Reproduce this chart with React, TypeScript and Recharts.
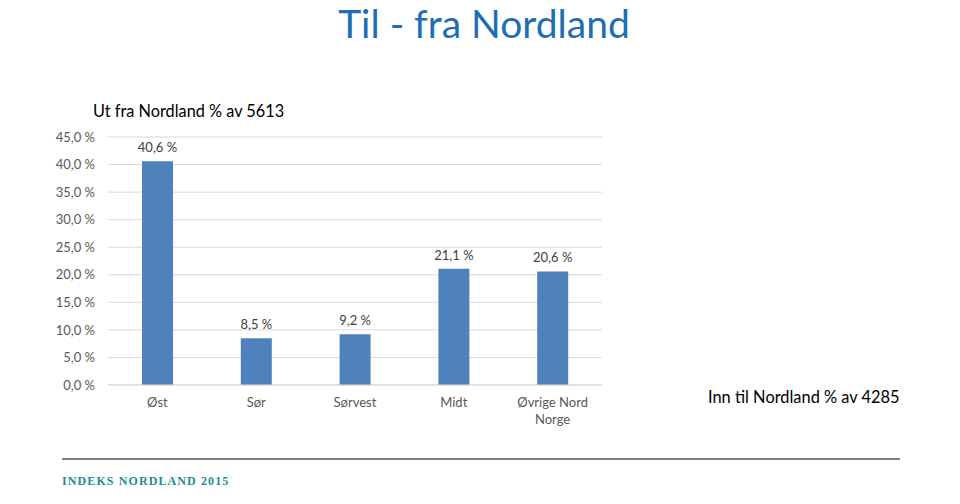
import React from 'react';
import { BarChart, Bar, XAxis, YAxis, CartesianGrid, LabelList } from 'recharts';

const regions = ['Øst', 'Sør', 'Sørvest', 'Midt', 'Øvrige Nord Norge'];
const shares = [40.6, 8.5, 9.2, 21.1, 20.6];
const yTicks = [0, 5, 10, 15, 20, 25, 30, 35, 40, 45];

const chartData = regions.map((name, i) => ({ name, value: shares[i] }));

const pct = (v: number) => `${v.toFixed(1).replace('.', ',')} %`;

const FONT = 'Lato, "Open Sans", sans-serif';

// wrap long category names onto two lines, like the original
const CategoryTick = (props: any) => {
  const { x, y, payload } = props;
  const words: string[] = String(payload.value).split(' ');
  const lines: string[] = [];
  let cur = '';
  words.forEach((w) => {
    const next = cur ? `${cur} ${w}` : w;
    if (next.length > 12 && cur) {
      lines.push(cur);
      cur = w;
    } else {
      cur = next;
    }
  });
  if (cur) lines.push(cur);
  return (
    <text x={x} y={y} textAnchor="middle" fill="#595959" fontSize={13} fontFamily={FONT}>
      {lines.map((l, i) => (
        <tspan key={i} x={x} dy={i === 0 ? 14 : 17}>
          {l}
        </tspan>
      ))}
    </text>
  );
};

// value label above each bar, kept on one line
const ValueLabel = (props: any) => {
  const { x, y, width, value } = props;
  return (
    <text
      x={Number(x) + Number(width) / 2}
      y={Number(y) - 9}
      textAnchor="middle"
      fill="#404040"
      fontSize={13}
      fontFamily={FONT}
    >
      {pct(Number(value))}
    </text>
  );
};

const App = () => {
  return (
    <div
      style={{
        position: 'absolute',
        left: 0,
        top: 0,
        width: 960,
        height: 504,
        background: '#ffffff',
        overflow: 'hidden',
        fontFamily: FONT,
      }}
    >
      <div
        style={{
          position: 'absolute',
          top: 0,
          left: 0,
          width: 968,
          textAlign: 'center',
          fontSize: 39,
          lineHeight: 'normal',
          color: '#1f6db3',
        }}
      >
        Til - fra Nordland
      </div>

      <div style={{ position: 'absolute', left: 93, top: 101, fontSize: 16.3, color: '#000' }}>
        Ut fra Nordland % av 5613
      </div>

      <div style={{ position: 'absolute', left: 708, top: 387, fontSize: 16.4, color: '#000' }}>
        Inn til Nordland % av 4285
      </div>

      <div style={{ position: 'absolute', left: 0, top: 0 }}>
        <BarChart
          width={620}
          height={440}
          data={chartData}
          margin={{ top: 137, right: 18, left: 8, bottom: 0 }}
        >
          <CartesianGrid vertical={false} stroke="#d9d9d9" />
          <XAxis
            dataKey="name"
            axisLine={{ stroke: '#d9d9d9' }}
            tickLine={false}
            tick={<CategoryTick />}
            interval={0}
            height={55}
          />
          <YAxis
            domain={[0, 45]}
            ticks={yTicks}
            tickFormatter={pct}
            axisLine={false}
            tickLine={false}
            tickSize={0}
            tickMargin={13}
            width={100}
            tick={{ fill: '#595959', fontSize: 13, fontFamily: FONT }}
          />
          <Bar dataKey="value" fill="#4f81bd" barSize={31} isAnimationActive={false}>
            <LabelList dataKey="value" content={<ValueLabel />} />
          </Bar>
        </BarChart>
      </div>

      <div
        style={{
          position: 'absolute',
          left: 62,
          top: 458,
          width: 838,
          height: 2,
          background: '#808080',
        }}
      />
      <div
        style={{
          position: 'absolute',
          left: 62,
          top: 474,
          fontFamily: '"Liberation Serif", "DejaVu Serif", serif',
          fontWeight: 'bold',
          fontSize: 12,
          letterSpacing: 1.1,
          color: '#1e8c93',
        }}
      >
        INDEKS NORDLAND 2015
      </div>
    </div>
  );
};

export default App;
